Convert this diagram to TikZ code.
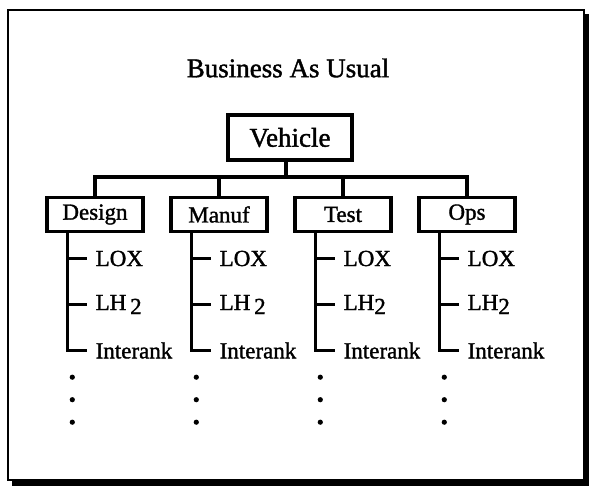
\documentclass[tikz,border=0pt]{standalone}
\usepackage{fontspec}
\setmainfont{Liberation Serif}[FakeBold=1.4]
\usetikzlibrary{trees}

\begin{document}
\begin{tikzpicture}[x=1pt,y=1pt,line width=3.4pt,
    box/.style={draw,fill=white,inner sep=2pt,line width=3.4pt},
    item/.style={anchor=west,inner sep=0pt}]
    \tikzstyle{every node}=[font=\fontsize{23}{26}\selectfont]
    \tikzstyle{level 1}=[sibling distance=124pt,level distance=37.5pt,
      edge from parent path={(\tikzparentnode) -| (\tikzchildnode.north)}]
    \tikzstyle{level 2}=[grow via three points={one child at (-1,-44) and two children at (-1,-44) and (-1,-90)},
      edge from parent path={([xshift=22pt]\tikzparentnode.south west) |- ([xshift=-7pt]\tikzchildnode.west)}]
    \useasboundingbox (0,0) rectangle (590,-493);
    % sheet with its shadow
    \fill (12,-14) rectangle (589,-486);
    \draw[fill=white,line width=2pt] (8,-10) rectangle (584,-480);
    \node (title) at (288,-68) {\fontsize{27}{30}\selectfont Business As Usual};
    \node[box,minimum width=124pt,minimum height=45pt,font=\fontsize{27}{30}\selectfont]
      (veh) at (290,-137.5) {Vehicle};
    \coordinate (hub) at (281,-177) %bar under Vehicle
    child{ node[box,minimum width=96pt,minimum height=34pt] {Design}   %L1
      child{ node[item] {LOX}}
      child{ node[item] {LH\,\raisebox{-4pt}{2}}}
      child{ node[item] {Interank}}}
    child{ node[box,minimum width=96pt,minimum height=34pt] {Manuf}    %L1
      child{ node[item] {LOX}}
      child{ node[item] {LH\,\raisebox{-4pt}{2}}}
      child{ node[item] {Interank}}}
    child{ node[box,minimum width=96pt,minimum height=34pt] {Test}     %L1
      child{ node[item] {LOX}}
      child{ node[item] {LH\raisebox{-4pt}{2}}}
      child{ node[item] {Interank}}}
    child{ node[box,minimum width=96pt,minimum height=34pt] {Ops}      %L1
      child{ node[item] {LOX}}
      child{ node[item] {LH\raisebox{-4pt}{2}}}
      child{ node[item] {Interank}}}
    ;
    \draw ([xshift=-4pt]veh.south) -- ([xshift=-4pt]veh.south |- hub);
    % the list goes on
    \foreach \b in {1,...,4}
      \foreach \k in {0,1,2}
        \fill (hub-\b.south west) ++(27,{-144-22.5*\k}) circle (2.6);
  \end{tikzpicture}
\end{document}
